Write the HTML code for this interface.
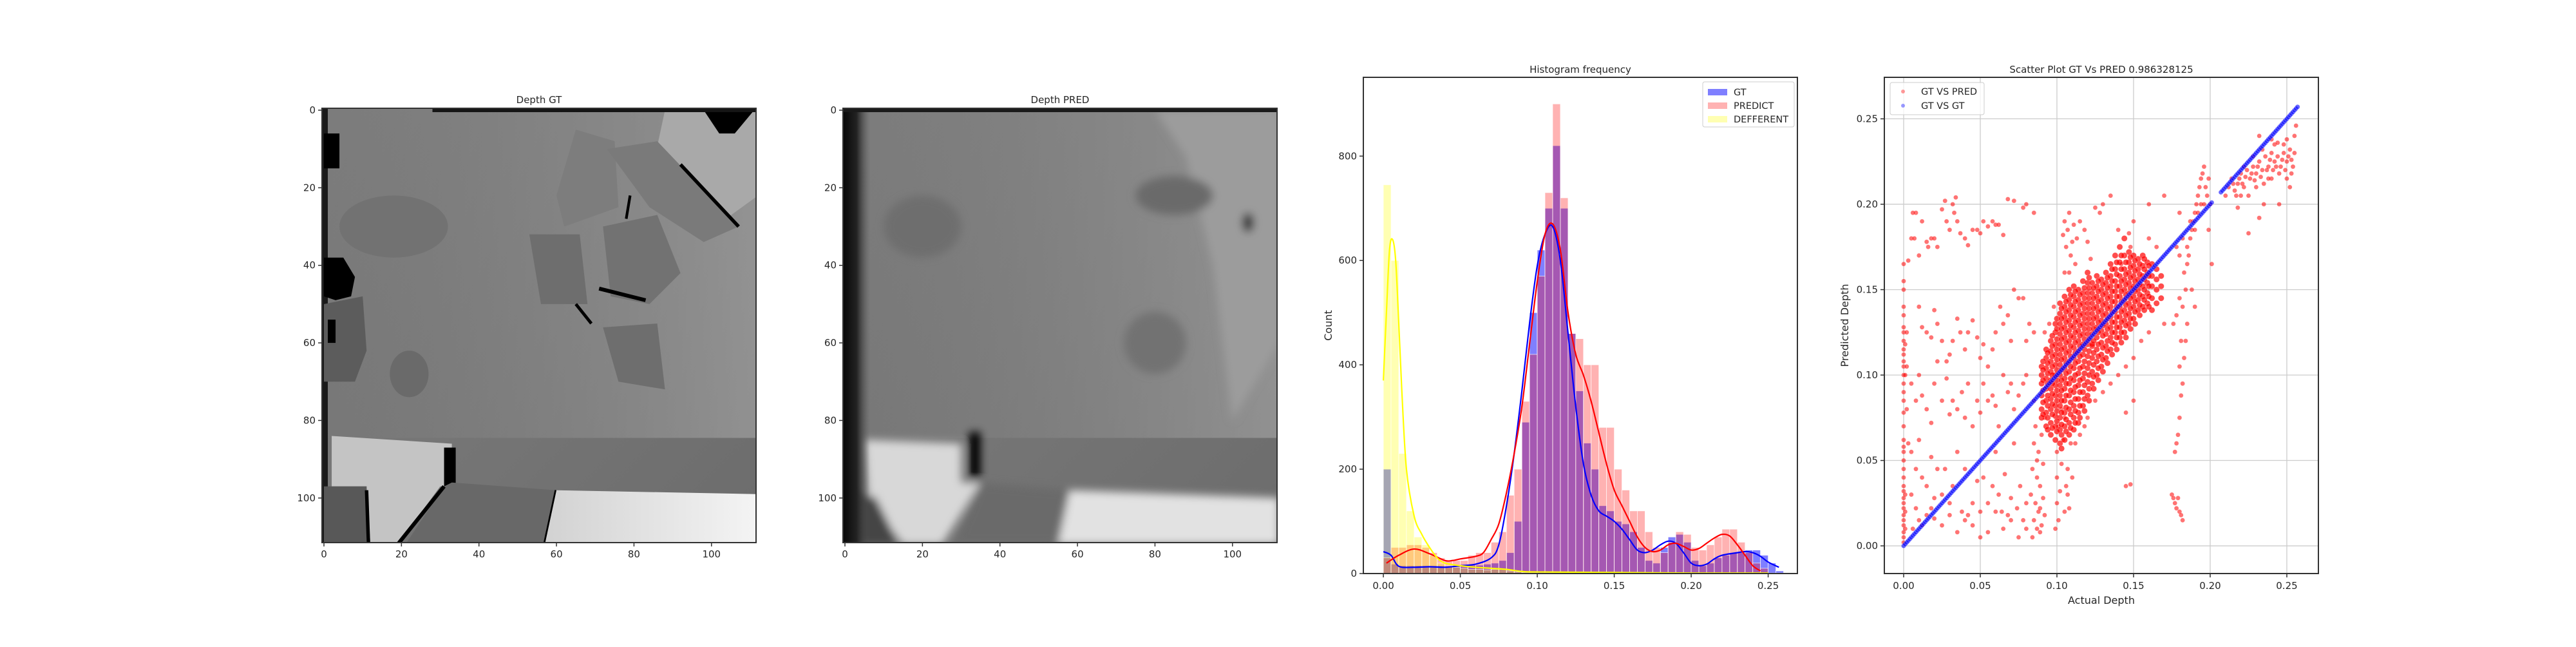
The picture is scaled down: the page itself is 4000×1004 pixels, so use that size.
<!DOCTYPE html>
<html><head><meta charset="utf-8">
<style>
html,body{margin:0;padding:0;background:#fff;}
body{width:4000px;height:1000px;overflow:hidden;font-family:"DejaVu Sans","Liberation Sans",sans-serif;}
svg text{font-family:"DejaVu Sans","Liberation Sans",sans-serif;fill:#262626;}
</style></head>
<body>
<svg id="fig" width="4000" height="1000" viewBox="0 0 4000 1000" xmlns="http://www.w3.org/2000/svg">
<defs>
<linearGradient id="gtbg" x1="0" y1="0" x2="1" y2="1">
<stop offset="0" stop-color="#7c7c7c"/><stop offset="0.5" stop-color="#767676"/><stop offset="1" stop-color="#6c6c6c"/>
</linearGradient>
<linearGradient id="gtbg2" x1="0" y1="0" x2="1" y2="0">
<stop offset="0" stop-color="#8a8a8a" stop-opacity="0"/><stop offset="1" stop-color="#a0a0a0" stop-opacity="0.7"/>
</linearGradient>
<linearGradient id="white1" x1="0" y1="0" x2="1" y2="0">
<stop offset="0" stop-color="#d2d2d2"/><stop offset="1" stop-color="#f4f4f4"/>
</linearGradient>
<linearGradient id="leftdark" x1="0" y1="0" x2="1" y2="0">
<stop offset="0" stop-color="#080808"/><stop offset="0.5" stop-color="#222"/><stop offset="1" stop-color="#555" stop-opacity="0"/>
</linearGradient>
<filter id="blur1"><feGaussianBlur stdDeviation="1.1"/></filter>
<clipPath id="clipGT"><rect x="-0.5" y="-0.5" width="112" height="112"/></clipPath>
<clipPath id="clipHist"><rect x="2117" y="120" width="674" height="770"/></clipPath>
<clipPath id="clipSc"><rect x="2926" y="120" width="674" height="770"/></clipPath>
</defs>

<g>
<text x="837" y="160" font-size="15" text-anchor="middle">Depth GT</text>
<svg x="500" y="168" width="674" height="674" viewBox="-0.5 -0.5 112 112" preserveAspectRatio="none">
<g clip-path="url(#clipGT)">
<rect x="-0.5" y="-0.5" width="112" height="112" fill="url(#gtbg)"/>
<rect x="-0.5" y="-0.5" width="112" height="85" fill="url(#gtbg2)"/>
<polygon points="88,0 112,0 112,22 101,30 85,14" fill="#a9a9a9"/>
<polygon points="98,0 111,0 106,6 102,6" fill="#000"/>
<rect x="28" y="-0.5" width="84" height="1" fill="#151515"/>
<rect x="-0.5" y="-0.5" width="1.5" height="112" fill="#1a1a1a"/>
<rect x="0" y="6" width="4" height="9" fill="#000"/>
<polygon points="0,38 5,38 8,43 7,48 3,49 0,48" fill="#000"/>
<polygon points="0,50 10,48 11,62 8,70 0,70" fill="#5c5c5c"/>
<rect x="1" y="54" width="2" height="6" fill="#000"/>
<ellipse cx="18" cy="30" rx="14" ry="8" fill="#727272"/>
<ellipse cx="22" cy="68" rx="5" ry="6" fill="#6a6a6a"/>
<polygon points="65,5 75,8 76,25 62,30 60,22" fill="#7d7d7d"/>
<polygon points="73,10 86,8 107,30 98,34 84,25" fill="#7a7a7a"/>
<polygon points="53,32 66,32 68,50 56,50" fill="#6e6e6e"/>
<polygon points="72,30 86,27 92,42 84,50 74,48" fill="#727272"/>
<polygon points="72,56 86,55 88,72 76,70" fill="#6e6e6e"/>
<line x1="92" y1="14" x2="107" y2="30" stroke="#000" stroke-width="0.9"/>
<line x1="71" y1="46" x2="83" y2="49" stroke="#000" stroke-width="1"/>
<line x1="65" y1="50" x2="69" y2="55" stroke="#000" stroke-width="0.8"/>
<line x1="79" y1="22" x2="78" y2="28" stroke="#000" stroke-width="0.7"/>
<polygon points="2,84 33,86 33,97 30,97 19,112 12,112 11,97 2,97" fill="#c4c4c4"/>
<polygon points="0,97 11,97 11,112 0,112" fill="#585858"/>
<rect x="31" y="87" width="3" height="10" fill="#000"/>
<polygon points="33,96 60,98 57,112 21,112 31,97" fill="#686868"/>
<line x1="31" y1="97" x2="19" y2="112" stroke="#000" stroke-width="1"/>
<line x1="60" y1="98" x2="57" y2="112" stroke="#000" stroke-width="0.9"/>
<line x1="11" y1="98" x2="11.5" y2="112" stroke="#000" stroke-width="0.9"/>
<polygon points="60,98 112,99 112,112 57,112" fill="url(#white1)"/>
</g>
</svg>
</g>

<g>
<text x="1646" y="160" font-size="15" text-anchor="middle">Depth PRED</text>
<svg x="1309" y="168" width="674" height="674" viewBox="-0.5 -0.5 112 112" preserveAspectRatio="none">
<g clip-path="url(#clipGT)">
<rect x="-0.5" y="-0.5" width="112" height="112" fill="url(#gtbg)"/>
<rect x="-0.5" y="-0.5" width="112" height="85" fill="url(#gtbg2)"/>
<g filter="url(#blur1)">
<polygon points="80,0 112,0 112,60 100,80 95,40 88,12" fill="#9c9c9c"/>
<ellipse cx="20" cy="30" rx="10" ry="8" fill="#6e6e6e"/>
<ellipse cx="85" cy="22" rx="10" ry="5" fill="#6a6a6a"/>
<ellipse cx="104" cy="29" rx="1.5" ry="2.5" fill="#303030"/>
<ellipse cx="80" cy="60" rx="8" ry="8" fill="#727272"/>
<polygon points="5,85 30,86 30,96 35,96 25,112 15,112 6,100" fill="#d8d8d8"/>
<rect x="32" y="83" width="3" height="12" fill="#000"/>
<polygon points="35,96 58,98 56,112 28,112" fill="#6a6a6a"/>
<polygon points="58,98 112,100 112,112 55,112" fill="#e2e2e2"/>
<polygon points="0,97 8,100 14,112 0,112" fill="#444"/>
</g>
<rect x="-0.5" y="-0.5" width="7" height="112" fill="url(#leftdark)"/>
<rect x="-0.5" y="-0.5" width="112" height="1" fill="#1a1a1a"/>
</g>
</svg>
</g>

<g id="imgAxes"></g>
<g id="hist"></g>
<g id="scatter"></g>
</svg>

<script>
const binStart = 0.0;
const binWidth = 0.005;
const gtCounts = [200,18,15,15,15,15,15,15,15,15,15,16,16,18,20,25,40,100,290,500,620,700,820,700,460,350,250,200,130,120,100,95,80,50,25,20,50,70,75,60,25,15,20,30,35,40,40,45,45,35,20,5];
const predCounts = [30,50,50,55,55,50,40,30,25,25,25,35,40,40,60,80,150,200,330,420,570,730,900,720,460,450,400,400,280,280,200,160,120,120,80,50,40,60,80,75,50,45,55,70,85,85,60,40,20,10,0,0];
const diffCounts = [745,600,230,120,70,55,35,20,15,12,10,8,8,7,8,8,5,3,2,2,1,1,1,1,1,1,1,1,1,1,1,1,1,1,1,1,1,1,1,1,1,1,1,1,1,1,1,1,1,1,1,1];
const gtKdeX = [0,0.005,0.01,0.02,0.03,0.04,0.05,0.06,0.07,0.075,0.08,0.085,0.09,0.095,0.1,0.105,0.11,0.115,0.12,0.125,0.13,0.135,0.14,0.145,0.15,0.155,0.16,0.165,0.17,0.175,0.18,0.185,0.19,0.195,0.2,0.205,0.21,0.215,0.22,0.23,0.235,0.24,0.245,0.25,0.257];
const gtKdeY = [42,35,14,12,13,12,15,18,30,55,130,230,350,480,590,650,665,600,460,320,210,150,120,110,100,85,65,45,40,45,55,62,58,40,20,15,18,28,35,40,42,40,33,22,12];
const predKdeX = [0.002,0.01,0.02,0.03,0.04,0.045,0.05,0.06,0.065,0.07,0.075,0.08,0.085,0.09,0.095,0.1,0.105,0.11,0.115,0.12,0.125,0.13,0.135,0.14,0.145,0.15,0.155,0.16,0.165,0.17,0.175,0.18,0.185,0.19,0.195,0.2,0.205,0.21,0.215,0.22,0.225,0.23,0.235,0.24,0.245];
const predKdeY = [20,35,47,38,25,25,28,33,40,65,95,155,230,320,440,560,650,670,620,500,420,380,330,270,210,160,130,100,70,50,42,45,55,58,52,45,48,58,68,75,72,55,35,15,5];
const diffKdeX = [0,0.002,0.004,0.006,0.008,0.01,0.012,0.015,0.02,0.025,0.03,0.035,0.04,0.05,0.06,0.07,0.08,0.09,0.1,0.15,0.2,0.25];
const diffKdeY = [370,500,620,640,600,480,350,200,110,75,50,30,20,15,12,10,8,4,3,2,1,1];
const histXTicks = [0,0.05,0.1,0.15,0.2,0.25];
const histXTickLabels = ["0.00","0.05","0.10","0.15","0.20","0.25"];
const histYTicks = [0,200,400,600,800];
const histYTickLabels = ["0","200","400","600","800"];

const predPoints = [[0,2],[0,5],[0,8],[0,12],[0,15],[0,18],[0,22],[0,25],[0,28],[0,32],[0,35],[0,40],[0,45],[0,50],[0,55],[0,58],[0,62],[0,70],[0,78],[0,85],[0,90],[0,95],[0,100],[0,105],[0,108],[0,112],[0,115],[0,120],[0,125],[0,128],[0,135],[0,140],[0,150],[0,155],[0,165],[1,20],[1,30],[1,10],[1,100],[1,118],[2,125],[2,105],[3,167],[3,60],[2,80],
[5,180],[7,180],[8,195],[6,195],[12,190],[10,170],[15,178],[16,175],[18,180],[20,180],[22,175],[25,197],[27,202],[28,190],[30,185],[32,200],[33,195],[34,204],[35,190],[37,183],[40,180],[42,176],[45,185],[48,185],[50,183],[52,190],[55,187],[58,190],[60,188],[62,188],[65,182],[68,203],[72,202],[78,198],[80,200],[85,195],
[10,140],[12,128],[15,125],[18,122],[20,138],[22,130],[25,120],[28,108],[30,112],[32,120],[35,133],[37,125],[40,115],[42,125],[45,132],[48,122],[50,110],[52,118],[55,105],[58,115],[60,125],[63,140],[65,130],[68,135],[70,120],[72,150],[75,145],[78,145],[80,120],[82,130],[85,125],
[5,95],[8,85],[10,100],[12,88],[15,80],[18,72],[20,95],[22,108],[25,85],[28,98],[30,77],[32,85],[35,80],[38,90],[40,75],[42,95],[45,70],[48,85],[50,78],[52,95],[55,85],[58,88],[60,82],[62,70],[65,100],[68,90],[70,95],[72,80],[75,88],[78,95],[80,100],
[5,55],[8,45],[10,62],[12,40],[15,35],[18,52],[20,28],[22,45],[25,30],[27,45],[30,25],[32,35],[35,55],[38,20],[40,45],[42,18],[45,25],[48,38],[50,20],[52,40],[55,25],[58,35],[60,55],[62,30],[64,20],[66,42],[68,18],[70,28],[72,60],[74,22],[76,35],[78,15],[80,25],
[5,30],[8,22],[10,15],[12,12],[6,10],[15,18],[18,22],[20,16],[25,12],[30,18],[35,8],[40,15],[45,12],[50,5],[55,8],[60,20],[65,10],[70,15],[75,5],[80,10],
[83,30],[84,45],[85,15],[85,60],[86,25],[86,70],[87,10],[87,40],[88,55],[88,20],[89,8],[89,35],[90,65],[90,12],[91,28],[91,48],[92,18],[92,75],[85,85],[87,50],[89,22],[84,5],
[99,10],[100,25],[100,40],[100,55],[101,70],[101,15],[102,32],[103,48],[104,62],[105,20],[106,35],[107,30],[107,45],[108,22],[109,60],[110,40],[105,75],[103,80],
[104,182],[105,190],[106,175],[107,185],[108,195],[109,170],[110,178],[111,188],[112,165],[113,180],[105,160],[108,160],[115,190],[118,185],[120,178],[125,198],[130,200],[122,168],
[95,130],[98,140],[92,125],[112,60],[115,65],[118,70],[120,75],[125,85],[130,90],[135,95],[140,100],[145,105],[150,110],[155,120],[160,125],[170,130],[145,35],[148,36],[145,78],[150,85],[140,185],[147,183],[150,190],[160,180],[165,175],[170,205],[160,200],[135,205],[128,195],[142,165],[148,175],
[175,30],[176,28],[177,25],[178,22],[179,28],[180,20],[181,18],[182,15],[177,55],[178,60],[179,65],[180,75],[181,88],[182,95],[180,105],[181,120],[182,140],[184,150],[183,110],[176,130],[178,135],[180,145],[183,160],[185,165],[186,170],[187,180],[188,185],[189,190],[190,195],[191,200],[192,205],[193,210],[194,215],[195,218],[196,222],[197,210],[198,205],[199,215],[200,200],[190,185],[185,175],[187,190],[192,195],[194,200],[196,200],[188,150],[190,140],[185,130],[184,120],[180,170],[182,180],[199,185],[201,165],[180,195],[178,175],
[210,205],[212,210],[214,215],[216,208],[218,212],[220,218],[222,210],[224,220],[226,215],[228,222],[230,218],[232,225],[234,220],[236,228],[238,222],[240,230],[242,225],[244,228],[246,222],[248,230],[250,225],[252,232],[254,222],[220,205],[225,205],[230,210],[235,212],[240,215],[245,218],[250,215],[253,218],[232,240],[240,238],[248,235],[255,240],[256,246],[235,200],[245,200],[225,183],[232,192],[218,198],[252,210],[238,215],[242,235],
[215,212],[217,205],[219,215],[221,212],[223,216],[227,218],[229,214],[231,222],[233,216],[237,220],[239,226],[241,220],[243,222],[247,226],[249,220],[251,228],[253,226],[255,230],[222,222],[228,228],[234,232],[244,236],[250,238]];
const predColumns = [
[90,[80,88,95,100,75,105]],[93,[78,85,92,98,104,110,70,115]],[96,[72,80,86,92,97,102,108,114,120,65]],
[99,[70,76,82,88,94,100,106,112,118,125,130,62]],[102,[68,75,82,88,94,100,106,112,118,124,130,136,60,142]],
[105,[70,78,85,92,98,104,110,116,122,128,134,140,62,146]],[108,[72,80,88,95,102,108,114,120,126,132,138,144,150,65]],
[111,[75,82,90,97,104,110,116,122,128,134,140,146,68,152]],[114,[78,86,94,101,108,114,120,126,132,138,144,150,72]],
[117,[82,90,98,105,112,118,124,130,136,142,148,155]],[120,[88,96,104,111,118,124,130,136,142,148,154,160]],
[123,[95,102,110,117,124,130,136,142,148,154,118]],[126,[100,108,115,122,128,134,140,146,152,158]],
[129,[105,112,119,126,132,138,144,150,156]],[132,[110,117,124,130,136,142,148,154,160]],
[135,[115,122,128,134,140,146,152,158,165]],[138,[118,125,131,137,143,149,155,162,170]],
[141,[122,128,134,140,146,152,158,166,175]],[144,[125,132,138,144,150,156,162,170,180]],
[147,[130,136,142,148,154,160,166,172]],[150,[133,140,146,152,158,164,170]],[153,[138,144,150,156,162,168]],
[156,[140,146,152,158,164,170]],[159,[142,148,154,160,166]],[162,[138,145,152,158,165]],[165,[142,150,156,162]],[168,[145,152,158]],
[91,[77,84,91,97,103,108]],[94,[75,82,88,95,101,107,113,68]],[97,[69,77,83,89,95,100,105,111,117,123]],
[100,[67,73,79,85,91,97,103,109,115,121,127,133]],[103,[65,71,78,85,91,97,103,109,115,121,127,133,139,57]],
[106,[67,74,81,88,95,101,107,113,119,125,131,137,143]],[109,[69,77,84,91,98,105,111,117,123,129,135,141,147]],
[112,[72,79,86,93,100,107,113,119,125,131,137,143,149]],[115,[75,82,90,97,104,111,117,123,129,135,141,147]],
[118,[79,86,94,101,108,115,121,127,133,139,145,151]],[121,[85,92,100,107,114,121,127,133,139,145,151,157]],
[124,[92,99,106,113,120,127,133,139,145,151]],[127,[97,104,111,118,125,131,137,143,149,155]],
[130,[102,109,116,123,129,135,141,147,153]],[133,[107,114,120,127,133,139,145,151,157]],
[136,[112,119,125,131,137,143,149,155,162]],[139,[115,122,128,134,140,146,152,159,166]],
[142,[119,125,131,137,143,149,155,162,170]],[145,[122,129,135,141,147,153,159,166]],
[148,[127,133,139,145,151,157,163,169]],[151,[130,137,143,149,155,161,167]],[154,[135,141,147,153,159,165]],
[157,[138,144,150,156,162,168]],[160,[140,146,152,158,164]]];
const gtValues = [0,1,2,3,4,5,6,7,8,9,10,11,12,13,14,15,16,17,18,19,20,21,22,23,24,25,26,27,28,29,30,31,32,33,34,35,36,37,38,39,40,41,42,43,44,45,46,47,48,49,50,51,52,53,54,55,56,57,58,59,60,61,62,63,64,65,66,67,68,69,70,71,72,73,74,75,76,77,78,79,80,81,82,83,84,85,86,87,88,89,90,91,92,93,94,95,96,97,98,99,100,101,102,103,104,105,106,107,108,109,110,111,112,113,114,115,116,117,118,119,120,121,122,123,124,125,126,127,128,129,130,131,132,133,134,135,136,137,138,139,140,141,142,143,144,145,146,147,148,149,150,151,152,153,154,155,156,157,158,159,160,161,162,163,164,165,166,167,168,169,170,171,172,173,174,175,176,177,178,179,180,181,182,183,184,185,186,187,188,189,190,191,192,193,194,195,196,197,198,199,200,201,207,208,209,210,211,212,213,214,215,216,217,218,219,220,221,222,223,224,225,226,227,228,229,230,231,232,233,234,235,236,237,238,239,240,241,242,243,244,245,246,247,248,249,250,251,252,253,254,255,256,257];
const scXTicks = [0,0.05,0.1,0.15,0.2,0.25];
const scXTickLabels = ["0.00","0.05","0.10","0.15","0.20","0.25"];
const scYTicks = [0,0.05,0.1,0.15,0.2,0.25];
const scYTickLabels = ["0.00","0.05","0.10","0.15","0.20","0.25"];
const imgTicks = [0,20,40,60,80,100];
const imgTickLabels = ["0","20","40","60","80","100"];

const NS = "http://www.w3.org/2000/svg";
function mk(tag, attrs, parent){const e=document.createElementNS(NS,tag);for(const k in attrs)e.setAttribute(k,attrs[k]);parent.appendChild(e);return e;}

const imgG = document.getElementById('imgAxes');
[500,1309].forEach(function(left, idx){
  const top=168, size=674;
  const px = v => left + (v+0.5)*size/112;
  const py = v => top + (v+0.5)*size/112;
  const fr = mk('rect',{x:left,y:top,width:size,height:size,fill:'none',stroke:'#333',"stroke-width":2},imgG);
  
  
  imgTicks.forEach(function(t,i){
    const x=px(t);
    const tl = mk('line',{x1:x,y1:top+size,x2:x,y2:top+size+6,stroke:'#333',"stroke-width":1.5},imgG);
    
    
    const tx = mk('text',{x:x,y:top+size+23,"font-size":15,"text-anchor":"middle"},imgG);
    tx.textContent = imgTickLabels[i];
    
    
    const y=py(t);
    const tl2 = mk('line',{x1:left-6,y1:y,x2:left,y2:y,stroke:'#333',"stroke-width":1.5},imgG);
    
    
    const ty = mk('text',{x:left-10,y:y+5,"font-size":15,"text-anchor":"end"},imgG);
    ty.textContent = imgTickLabels[i];
    
    
  });
});

const H = {left:2117, top:120, w:674, h:770, xmin:-0.013, xmax:0.269, ymin:0, ymax:951};
const hx = v => H.left + (v-H.xmin)/(H.xmax-H.xmin)*H.w;
const hy = v => H.top + H.h - (v-H.ymin)/(H.ymax-H.ymin)*H.h;
const hg = document.getElementById('hist');
const hbars = mk('g',{"clip-path":"url(#clipHist)"},hg);
function drawBars(arr, color, op, name){
  arr.forEach(function(c,i){
    const x0 = hx(binStart+i*binWidth), x1 = hx(binStart+(i+1)*binWidth);
    if(c<=0) return;
    const r = mk('rect',{x:x0,y:hy(c),width:x1-x0,height:hy(0)-hy(c),fill:color,"fill-opacity":op,stroke:'#fff',"stroke-width":0.8,"stroke-opacity":0.8},hbars);
    
    
  });
}
drawBars(gtCounts,'#0000ff',0.5,'gt-bar');
drawBars(predCounts,'#ff0000',0.3,'predict-bar');
drawBars(diffCounts,'#ffff00',0.3,'different-bar');
function smoothPath(xs, ys, fx, fy){
  const p = xs.map((x,i)=>[fx(x),fy(ys[i])]);
  let d = 'M'+p[0][0]+','+p[0][1];
  for(let i=0;i<p.length-1;i++){
    const p0=p[Math.max(0,i-1)], p1=p[i], p2=p[i+1], p3=p[Math.min(p.length-1,i+2)];
    const c1x=p1[0]+(p2[0]-p0[0])/6, c1y=p1[1]+(p2[1]-p0[1])/6;
    const c2x=p2[0]-(p3[0]-p1[0])/6, c2y=p2[1]-(p3[1]-p1[1])/6;
    d += ' C'+c1x+','+c1y+' '+c2x+','+c2y+' '+p2[0]+','+p2[1];
  }
  return d;
}
const kg = mk('g',{"clip-path":"url(#clipHist)"},hg);
const k1 = mk('path',{d:smoothPath(gtKdeX,gtKdeY,hx,hy),fill:'none',stroke:'#0000ff',"stroke-width":2.2},kg);


const k2 = mk('path',{d:smoothPath(predKdeX,predKdeY,hx,hy),fill:'none',stroke:'#ff0000',"stroke-width":2.2},kg);


const k3 = mk('path',{d:smoothPath(diffKdeX,diffKdeY,hx,hy),fill:'none',stroke:'#ffff00',"stroke-width":2.2},kg);


const hf = mk('rect',{x:H.left,y:H.top,width:H.w,height:H.h,fill:'none',stroke:'#333',"stroke-width":2},hg);


histXTicks.forEach(function(t,i){
  const x=hx(t);
  const l=mk('line',{x1:x,y1:H.top+H.h,x2:x,y2:H.top+H.h+6,stroke:'#333',"stroke-width":1.5},hg);
  
  
  const tx=mk('text',{x:x,y:H.top+H.h+24,"font-size":15,"text-anchor":"middle"},hg);
  tx.textContent=histXTickLabels[i];
  
  
});
histYTicks.forEach(function(t,i){
  const y=hy(t);
  const l=mk('line',{x1:H.left-6,y1:y,x2:H.left,y2:y,stroke:'#333',"stroke-width":1.5},hg);
  
  
  const ty=mk('text',{x:H.left-10,y:y+5,"font-size":15,"text-anchor":"end"},hg);
  ty.textContent=histYTickLabels[i];
  
  
});
const ht=mk('text',{x:H.left+H.w/2,y:113,"font-size":15,"text-anchor":"middle"},hg);
ht.textContent='Histogram frequency';


const hyl=mk('text',{x:0,y:0,"font-size":16,"text-anchor":"middle",transform:'translate(2068,505) rotate(-90)'},hg);
hyl.textContent='Count';


const hl = mk('g',{},hg);


mk('rect',{x:2644,y:127,width:142,height:70,rx:3,fill:'#fff',"fill-opacity":0.8,stroke:'#ccc',"stroke-width":1},hl);
[['GT','#0000ff',0.5],['PREDICT','#ff0000',0.3],['DEFFERENT','#ffff00',0.3]].forEach(function(e,i){
  const y=138+i*21;
  const sw=mk('rect',{x:2652,y:y,width:30,height:10,fill:e[1],"fill-opacity":e[2]},hl);
  
  
  const t=mk('text',{x:2692,y:y+10,"font-size":14.5},hl);
  t.textContent=e[0];
  
  
});

const S = {left:2926, top:120, w:674, h:770, xmin:-0.0126, xmax:0.2706, ymin:-0.0162, ymax:0.2743};
const sx = v => S.left + (v-S.xmin)/(S.xmax-S.xmin)*S.w;
const sy = v => S.top + S.h - (v-S.ymin)/(S.ymax-S.ymin)*S.h;
const sg = document.getElementById('scatter');
scXTicks.forEach(function(t){
  const g=mk('line',{x1:sx(t),y1:S.top,x2:sx(t),y2:S.top+S.h,stroke:'#cccccc',"stroke-width":1.3},sg);
  
  
});
scYTicks.forEach(function(t){
  const g=mk('line',{x1:S.left,y1:sy(t),x2:S.left+S.w,y2:sy(t),stroke:'#cccccc',"stroke-width":1.3},sg);
  
  
});
const pts = mk('g',{"clip-path":"url(#clipSc)"},sg);
function dot(x,y,color,op,r,name){
  const c=mk('circle',{cx:sx(x),cy:sy(y),r:r,fill:color,"fill-opacity":op,stroke:'#fff',"stroke-width":0.5,"stroke-opacity":0.4},pts);
  
  
}
predPoints.forEach(p=>dot(p[0]/1000,p[1]/1000,'#ff0000',0.55,3.5,'pred-point'));
predColumns.forEach(col=>col[1].forEach(y=>dot(col[0]/1000,y/1000,'#ff0000',0.7,4.6,'pred-point')));
gtValues.forEach(v=>dot(v/1000,v/1000,'#0000ff',0.6,3.6,'gt-point'));
const sf=mk('rect',{x:S.left,y:S.top,width:S.w,height:S.h,fill:'none',stroke:'#333',"stroke-width":2},sg);


scXTicks.forEach(function(t,i){
  const x=sx(t);
  const l=mk('line',{x1:x,y1:S.top+S.h,x2:x,y2:S.top+S.h+6,stroke:'#333',"stroke-width":1.5},sg);
  
  
  const tx=mk('text',{x:x,y:S.top+S.h+24,"font-size":15,"text-anchor":"middle"},sg);
  tx.textContent=scXTickLabels[i];
  
  
});
scYTicks.forEach(function(t,i){
  const y=sy(t);
  const l=mk('line',{x1:S.left-6,y1:y,x2:S.left,y2:y,stroke:'#333',"stroke-width":1.5},sg);
  
  
  const ty=mk('text',{x:S.left-10,y:y+5,"font-size":15,"text-anchor":"end"},sg);
  ty.textContent=scYTickLabels[i];
  
  
});
const st=mk('text',{x:S.left+S.w/2,y:113,"font-size":15,"text-anchor":"middle"},sg);
st.textContent='Scatter Plot GT Vs PRED 0.986328125';


const sxl=mk('text',{x:S.left+S.w/2,y:937,"font-size":16,"text-anchor":"middle"},sg);
sxl.textContent='Actual Depth';


const syl=mk('text',{x:0,y:0,"font-size":16,"text-anchor":"middle",transform:'translate(2870,505) rotate(-90)'},sg);
syl.textContent='Predicted Depth';


const sl=mk('g',{},sg);


mk('rect',{x:2935,y:128,width:146,height:50,rx:3,fill:'#fff',"fill-opacity":0.8,stroke:'#ccc',"stroke-width":1},sl);
[['GT VS PRED','#ff0000'],['GT VS GT','#0000ff']].forEach(function(e,i){
  const y=142+i*22;
  const m=mk('circle',{cx:2955,cy:y,r:3,fill:e[1],"fill-opacity":0.4},sl);
  
  
  const t=mk('text',{x:2983,y:y+5,"font-size":14.5},sl);
  t.textContent=e[0];
  
  
});
</script>
</body></html>
